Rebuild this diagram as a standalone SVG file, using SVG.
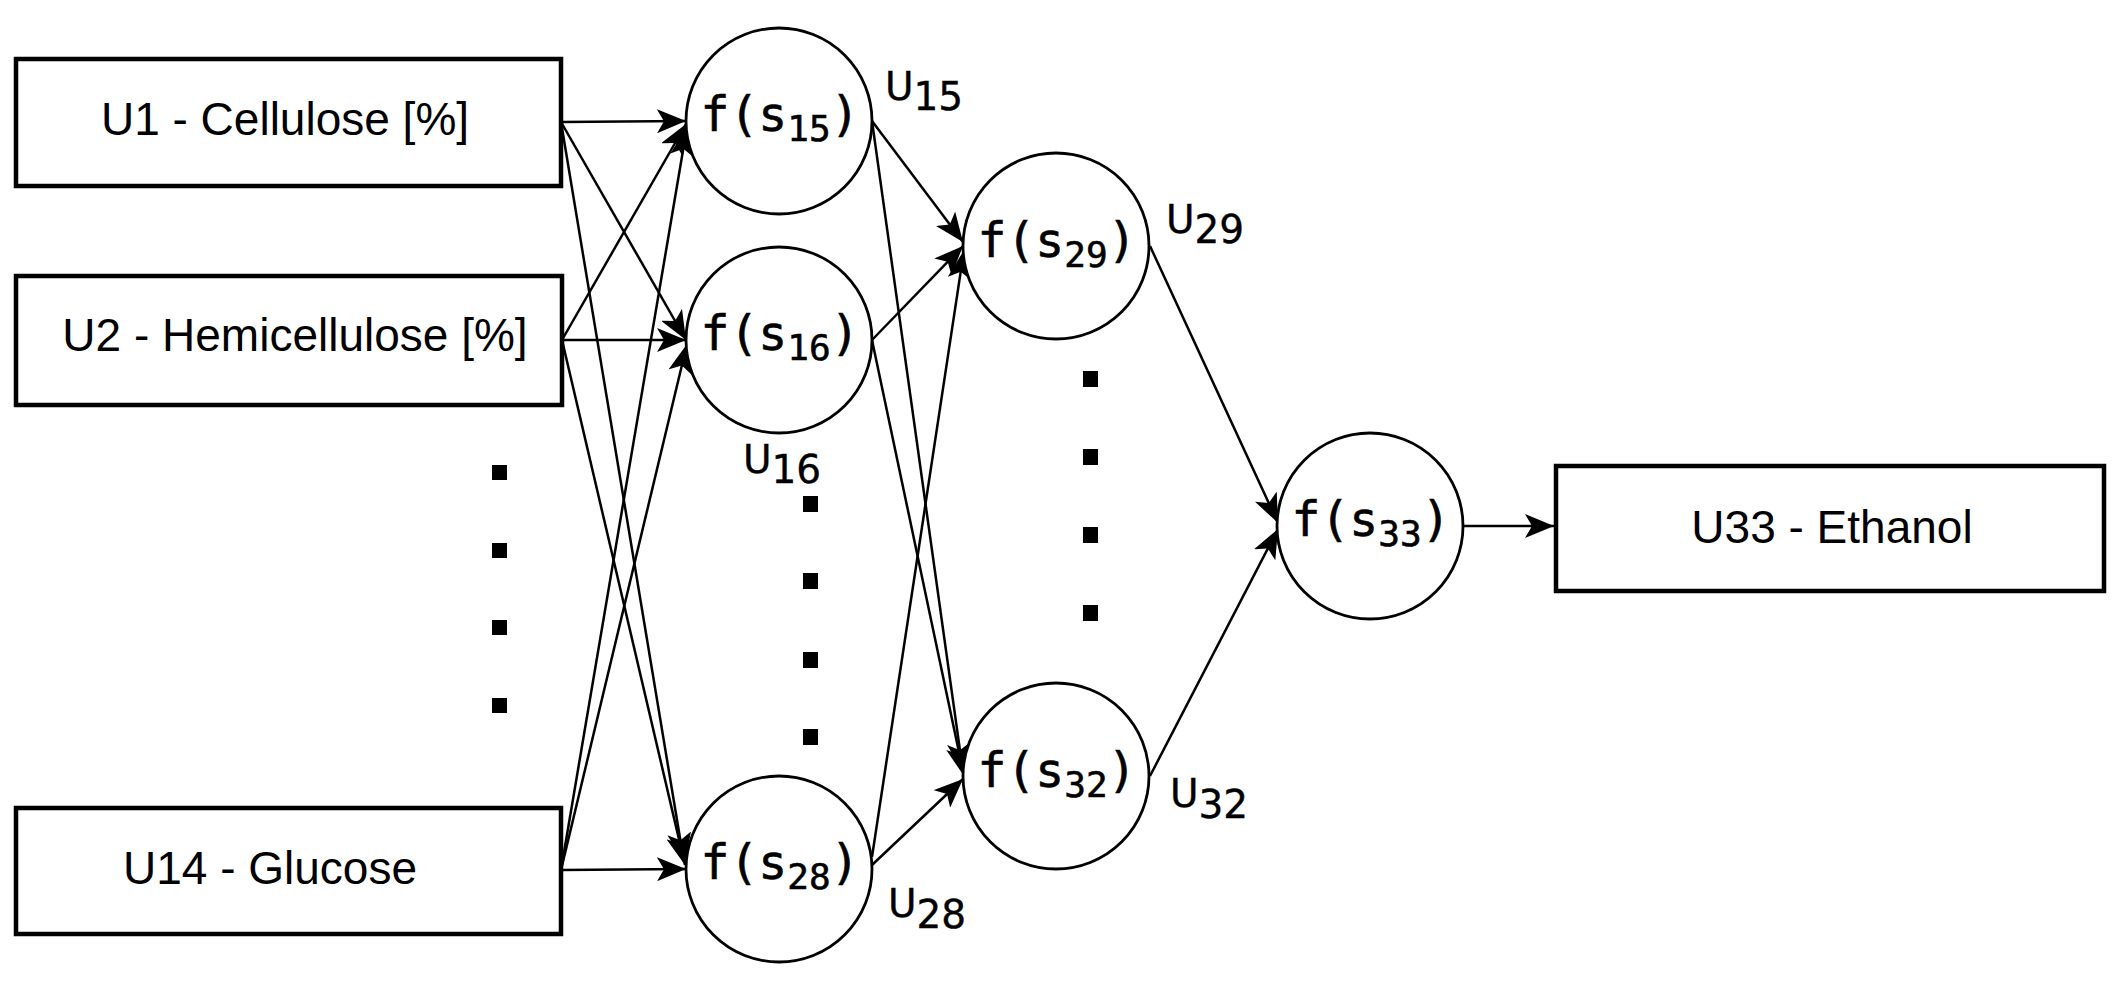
<svg xmlns="http://www.w3.org/2000/svg" width="2122" height="982" viewBox="0 0 2122 982">
<style>
.box{fill:#fff;stroke:#000;stroke-width:4.5}
.neu{fill:#fff;stroke:#000;stroke-width:2.8}
.bt{font-family:"Liberation Sans",Arial,sans-serif;font-size:46px;fill:#000}
.ft{font-family:"DejaVu Sans Mono",monospace;font-size:48px;fill:#000;stroke:#000;stroke-width:0.6}
.ul{font-family:"DejaVu Sans",sans-serif;font-size:39px;fill:#000;stroke:#000;stroke-width:0.4}
.c{stroke:#000;stroke-width:2.5;fill:none;marker-end:url(#ah)}
.dot{fill:#000}
</style>
<defs>
<marker id="ah" markerUnits="userSpaceOnUse" markerWidth="30" markerHeight="24" refX="29" refY="12" orient="auto">
<path d="M0,0 L29,12 L0,24 L7,12 Z" fill="#000"/>
</marker>
</defs>
<g id="connectors">
<line class="c" x1="561" y1="122" x2="686" y2="121"/>
<line class="c" x1="561" y1="122" x2="686" y2="340"/>
<line class="c" x1="561" y1="122" x2="684" y2="862"/>
<line class="c" x1="562" y1="340" x2="686" y2="124"/>
<line class="c" x1="562" y1="340" x2="686" y2="340"/>
<line class="c" x1="562" y1="340" x2="685" y2="865"/>
<line class="c" x1="561" y1="870" x2="687" y2="127"/>
<line class="c" x1="561" y1="870" x2="687" y2="344"/>
<line class="c" x1="561" y1="870" x2="686" y2="869"/>
<line class="c" x1="872" y1="121" x2="963" y2="242"/>
<line class="c" x1="872" y1="121" x2="963" y2="772"/>
<line class="c" x1="872" y1="340" x2="963" y2="246"/>
<line class="c" x1="872" y1="340" x2="964" y2="776"/>
<line class="c" x1="872" y1="857" x2="964" y2="250"/>
<line class="c" x1="872" y1="865" x2="963" y2="779"/>
<line class="c" x1="1150" y1="246" x2="1278" y2="523"/>
<line class="c" x1="1150" y1="776" x2="1278" y2="529"/>
<line class="c" x1="1463" y1="526" x2="1554" y2="526"/>
</g>
<g id="u1"><rect class="box" x="16" y="59" width="545" height="127"/><text class="bt" x="285" y="135" text-anchor="middle">U1 - Cellulose [%]</text></g>
<g id="u2"><rect class="box" x="16" y="276" width="546" height="129"/><text class="bt" x="295" y="351" text-anchor="middle">U2 - Hemicellulose [%]</text></g>
<g id="u14"><rect class="box" x="16" y="808" width="545" height="126"/><text class="bt" x="123" y="884">U14 - Glucose</text></g>
<g id="n15"><circle class="neu" cx="779" cy="121" r="93"/><text class="ft" x="780" y="131" text-anchor="middle">f(s<tspan font-size="36" dy="10">15</tspan><tspan dy="-10">)</tspan></text><text class="ul" x="885" y="100">U<tspan dy="10">15</tspan></text></g>
<g id="n16"><circle class="neu" cx="779" cy="340" r="93"/><text class="ft" x="780" y="350" text-anchor="middle">f(s<tspan font-size="36" dy="10">16</tspan><tspan dy="-10">)</tspan></text><text class="ul" x="743" y="473">U<tspan dy="10">16</tspan></text></g>
<g id="n28"><circle class="neu" cx="779" cy="869" r="93"/><text class="ft" x="780" y="879" text-anchor="middle">f(s<tspan font-size="36" dy="10">28</tspan><tspan dy="-10">)</tspan></text><text class="ul" x="888" y="917">U<tspan dy="11">28</tspan></text></g>
<g id="n29"><circle class="neu" cx="1056" cy="246" r="93"/><text class="ft" x="1057" y="257" text-anchor="middle">f(s<tspan font-size="36" dy="10">29</tspan><tspan dy="-10">)</tspan></text><text class="ul" x="1166" y="233">U<tspan dy="10">29</tspan></text></g>
<g id="n32"><circle class="neu" cx="1056" cy="776" r="93"/><text class="ft" x="1057" y="787" text-anchor="middle">f(s<tspan font-size="36" dy="10">32</tspan><tspan dy="-10">)</tspan></text><text class="ul" x="1170" y="807">U<tspan dy="11">32</tspan></text></g>
<g id="n33"><circle class="neu" cx="1370" cy="526" r="93"/><text class="ft" x="1371" y="536" text-anchor="middle">f(s<tspan font-size="36" dy="10">33</tspan><tspan dy="-10">)</tspan></text></g>
<g id="u33"><rect class="box" x="1556" y="466" width="548" height="125"/><text class="bt" x="1832" y="543" text-anchor="middle">U33 - Ethanol</text></g>
<g id="dots">
<rect class="dot" x="492" y="465" width="15" height="15"/>
<rect class="dot" x="492" y="543" width="15" height="15"/>
<rect class="dot" x="492" y="620" width="15" height="15"/>
<rect class="dot" x="492" y="698" width="15" height="15"/>
<rect class="dot" x="803" y="496" width="15" height="16"/>
<rect class="dot" x="803" y="573" width="15" height="16"/>
<rect class="dot" x="803" y="652" width="15" height="16"/>
<rect class="dot" x="803" y="729" width="15" height="16"/>
<rect class="dot" x="1083" y="371" width="15" height="16"/>
<rect class="dot" x="1083" y="449" width="15" height="16"/>
<rect class="dot" x="1083" y="527" width="15" height="16"/>
<rect class="dot" x="1083" y="605" width="15" height="16"/>
</g>
</svg>
